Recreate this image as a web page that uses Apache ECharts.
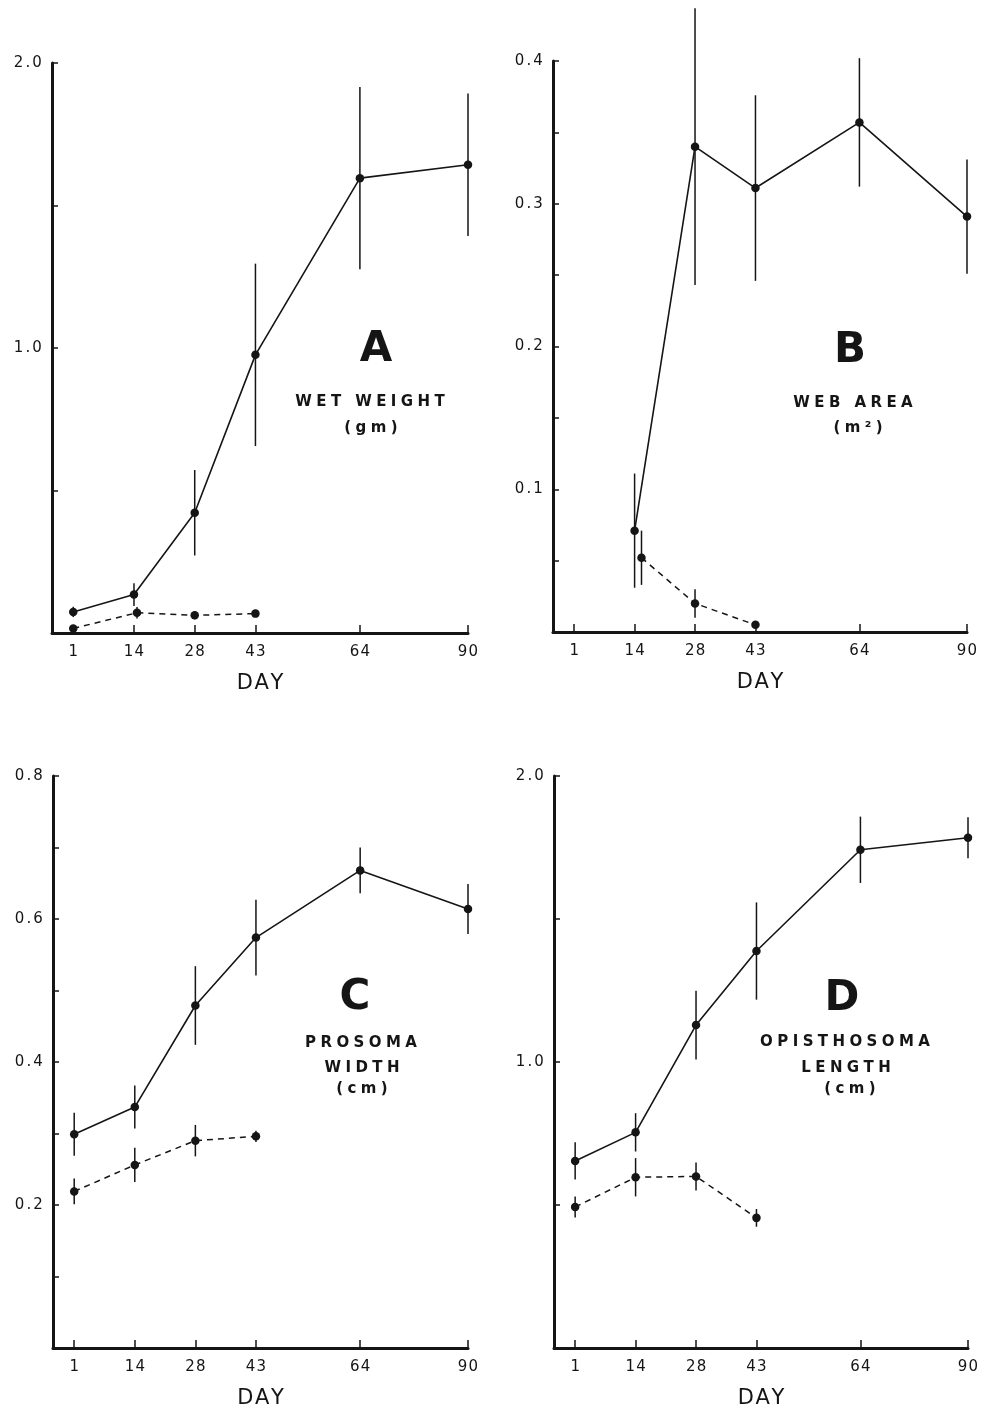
<!DOCTYPE html>
<html>
<head>
<meta charset="utf-8">
<script src="https://cdn.jsdelivr.net/npm/echarts@6/dist/echarts.min.js"></script>
<style>
  html, body { margin: 0; padding: 0; background: #ffffff; }
  #chart { width: 981px; height: 1408px; }
</style>
</head>
<body>
<div id="chart"></div>
<script>
// Sampling days and their axis labels
const days = [1, 14, 28, 43, 64, 90];
const dayLabels = ['1', '14', '28', '43', '64', '90'];

// A: wet weight (gm)
const wetWeightDays = [1, 14, 28, 43, 64, 90];
const wetWeight = [0.074, 0.135, 0.422, 0.976, 1.596, 1.643];
const wetWeightErr = [0.018, 0.04, 0.15, 0.32, 0.32, 0.25];
const wetWeightDashedDays = [1, 14.7, 28, 43];
const wetWeightDashed = [0.016, 0.071, 0.062, 0.068];
const wetWeightDashedErr = [0, 0.02, 0.014, 0];
const wetWeightTicks = [0.5, 1.0, 1.5, 2.0];
const wetWeightLabels = [1.0, 2.0];

// B: web area (m2)
const webAreaDays = [14, 28, 43, 64, 90];
const webArea = [0.071, 0.340, 0.311, 0.357, 0.291];
const webAreaErr = [0.04, 0.097, 0.065, 0.045, 0.04];
const webAreaDashedDays = [15.6, 28, 43];
const webAreaDashed = [0.052, 0.020, 0.005];
const webAreaDashedErr = [0.019, 0.01, 0];
const webAreaTicks = [0.05, 0.1, 0.15, 0.2, 0.25, 0.3, 0.35, 0.4];
const webAreaLabels = [0.1, 0.2, 0.3, 0.4];

// C: prosoma width (cm)
const prosomaDays = [1, 14, 28, 43, 64, 90];
const prosoma = [0.299, 0.337, 0.479, 0.574, 0.668, 0.614];
const prosomaErr = [0.03, 0.03, 0.055, 0.053, 0.032, 0.035];
const prosomaDashedDays = [1, 14, 28, 43];
const prosomaDashed = [0.219, 0.256, 0.290, 0.296];
const prosomaDashedErr = [0.018, 0.024, 0.022, 0.008];
const prosomaTicks = [0.1, 0.2, 0.3, 0.4, 0.5, 0.6, 0.7, 0.8];
const prosomaLabels = [0.2, 0.4, 0.6, 0.8];

// D: opisthosoma length (cm)
const opisthoDays = [1, 14, 28, 43, 64, 90];
const opistho = [0.654, 0.754, 1.129, 1.388, 1.742, 1.784];
const opisthoErr = [0.065, 0.067, 0.12, 0.17, 0.116, 0.072];
const opisthoDashedDays = [1, 14, 28, 43];
const opisthoDashed = [0.493, 0.597, 0.600, 0.455];
const opisthoDashedErr = [0.037, 0.067, 0.049, 0.031];
const opisthoTicks = [0.5, 1.0, 1.5, 2.0];
const opisthoLabels = [1.0, 2.0];

// ---- drawing setup ----
const ink = '#151515';
const fontFamily = 'DejaVu Sans';

// The day axis is drawn with uneven spacing: each labelled day sits on its own slot,
// and days in between are placed by linear interpolation between neighbouring slots.
const daySlots = [0, 1, 2, 3, 4.72, 6.5];
const slotMin = -0.35;
function slotOf(day) {
  for (let i = 1; i < days.length; i++) {
    if (day <= days[i] || i === days.length - 1) {
      const t = (day - days[i - 1]) / (days[i] - days[i - 1]);
      return daySlots[i - 1] + t * (daySlots[i] - daySlots[i - 1]);
    }
  }
  return 0;
}
function labelOfSlot(v) {
  for (let i = 0; i < daySlots.length; i++) {
    if (Math.abs(daySlots[i] - v) < 1e-6) return dayLabels[i];
  }
  return '';
}

// Letter-spaced text built from rich-text runs, one run per character
function spaced(text, style) {
  return text.split('').map(ch => '{' + style + '|' + ch + '}').join('');
}

const panels = [
  {
    grid: { left: 52, top: 63, width: 416, height: 570 },
    yMax: 2.0, yTicks: wetWeightTicks, yLabels: wetWeightLabels,
    solid: [wetWeightDays, wetWeight, wetWeightErr],
    dashed: [wetWeightDashedDays, wetWeightDashed, wetWeightDashedErr]
  },
  {
    grid: { left: 553, top: 61, width: 414, height: 571 },
    yMax: 0.4, yTicks: webAreaTicks, yLabels: webAreaLabels,
    solid: [webAreaDays, webArea, webAreaErr],
    dashed: [webAreaDashedDays, webAreaDashed, webAreaDashedErr]
  },
  {
    grid: { left: 53, top: 776, width: 415, height: 572 },
    yMax: 0.8, yTicks: prosomaTicks, yLabels: prosomaLabels,
    solid: [prosomaDays, prosoma, prosomaErr],
    dashed: [prosomaDashedDays, prosomaDashed, prosomaDashedErr]
  },
  {
    grid: { left: 554, top: 776, width: 414, height: 572 },
    yMax: 2.0, yTicks: opisthoTicks, yLabels: opisthoLabels,
    solid: [opisthoDays, opistho, opisthoErr],
    dashed: [opisthoDashedDays, opisthoDashed, opisthoDashedErr]
  }
];

function points(set) {
  return set[0].map((d, i) => [slotOf(d), set[1][i], set[2][i]]);
}

function errorBars(params, api) {
  const x = api.value(0), y = api.value(1), e = api.value(2);
  if (!e) return null;
  const lo = api.coord([x, y - e]);
  const hi = api.coord([x, y + e]);
  return {
    type: 'line',
    shape: { x1: lo[0], y1: lo[1], x2: hi[0], y2: hi[1] },
    style: { stroke: ink, lineWidth: 1.5 }
  };
}

const yLabelRich = { t: { color: ink, fontSize: 15, fontFamily: fontFamily, padding: [0, 1.1, 0, 1.1] } };
const xLabelRich = { t: { color: ink, fontSize: 15, fontFamily: fontFamily, padding: [0, 0.6, 0, 0.6] } };

const grids = [], xAxes = [], yAxes = [], series = [];
panels.forEach((p, k) => {
  grids.push(Object.assign({ outerBoundsMode: 'none', containLabel: false }, p.grid));
  xAxes.push({
    type: 'value', gridIndex: k, min: slotMin, max: daySlots[daySlots.length - 1],
    splitLine: { show: false },
    axisLine: { show: true, onZero: false, lineStyle: { color: ink, width: 3 } },
    axisTick: { show: true, inside: true, length: 8, customValues: daySlots, lineStyle: { color: ink, width: 1.5 } },
    axisLabel: {
      show: true, customValues: daySlots, margin: 12,
      formatter: v => spaced(labelOfSlot(v), 't'),
      rich: xLabelRich
    },
    name: spaced('DAY', 'd'), nameLocation: 'middle', nameGap: 40,
    nameTextStyle: {
      rich: { d: { color: ink, fontSize: 21, fontFamily: fontFamily, padding: [0, 0.8, 0, 0.8] } }
    }
  });
  yAxes.push({
    type: 'value', gridIndex: k, min: 0, max: p.yMax,
    splitLine: { show: false },
    axisLine: { show: true, onZero: false, lineStyle: { color: ink, width: 3 } },
    axisTick: { show: true, inside: true, length: 6, customValues: p.yTicks, lineStyle: { color: ink, width: 1.5 } },
    axisLabel: {
      show: true, customValues: p.yLabels, margin: 9,
      formatter: v => spaced(v.toFixed(1), 't'),
      rich: yLabelRich
    }
  });
  const solid = points(p.solid), dashed = points(p.dashed);
  series.push({
    type: 'custom', xAxisIndex: k, yAxisIndex: k, clip: false, z: 2,
    renderItem: errorBars, data: solid.concat(dashed)
  });
  series.push({
    type: 'line', xAxisIndex: k, yAxisIndex: k, data: solid.map(d => [d[0], d[1]]),
    symbol: 'circle', symbolSize: 8.5, showSymbol: true, z: 3,
    itemStyle: { color: ink }, lineStyle: { color: ink, width: 1.6 }
  });
  series.push({
    type: 'line', xAxisIndex: k, yAxisIndex: k, data: dashed.map(d => [d[0], d[1]]),
    symbol: 'circle', symbolSize: 8.5, showSymbol: true, z: 3,
    itemStyle: { color: ink }, lineStyle: { color: ink, width: 1.5, type: [6, 5] }
  });
});

// Panel captions: big letter plus letter-spaced measurement name
const capFont = 'bold 15px "DejaVu Sans"';
function caption(text, x, y) {
  return {
    type: 'text', x: x, y: y, z: 10,
    style: {
      text: spaced(text, 'c'), font: capFont, fill: ink, align: 'center', verticalAlign: 'middle',
      rich: { c: { font: capFont, fill: ink, padding: [0, 2.2, 0, 2.2] } }
    }
  };
}
function bigLetter(text, x, y) {
  return {
    type: 'text', x: x, y: y, z: 10,
    style: { text: text, font: 'bold 42px "DejaVu Sans"', fill: ink, align: 'center', verticalAlign: 'middle' }
  };
}

const graphics = [
  bigLetter('A', 376, 350), caption('WET WEIGHT', 370, 402), caption('(gm)', 371, 428),
  bigLetter('B', 850, 351), caption('WEB AREA', 853, 403), caption('(m²)', 858, 428),
  bigLetter('C', 355, 998), caption('PROSOMA', 361, 1043), caption('WIDTH', 362, 1068), caption('(cm)', 362, 1089),
  bigLetter('D', 842, 999), caption('OPISTHOSOMA', 845, 1042), caption('LENGTH', 846, 1068), caption('(cm)', 850, 1089)
];

const chart = echarts.init(document.getElementById('chart'), null, { renderer: 'canvas' });
chart.setOption({
  animation: false,
  backgroundColor: '#ffffff',
  textStyle: { fontFamily: fontFamily },
  grid: grids,
  xAxis: xAxes,
  yAxis: yAxes,
  series: series,
  graphic: graphics
});
</script>
</body>
</html>
